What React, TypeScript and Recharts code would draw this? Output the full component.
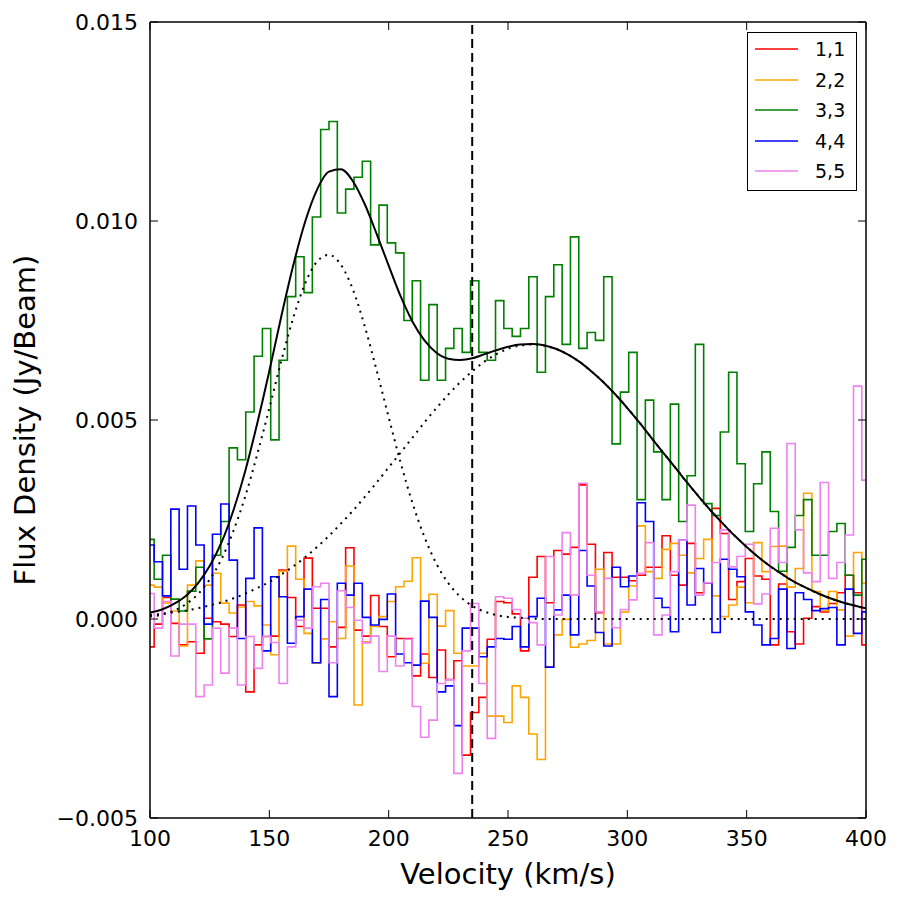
import { LineChart, Line, XAxis, YAxis, ReferenceLine, Legend } from "recharts";

// Spectrum channels: 87 channels from 100 to 400 km/s
const CHANNEL_START = 100;
const CHANNEL_WIDTH = 300 / 86;

// Flux density per channel (Jy/beam) for each transition
const flux11 = [
  -0.0007, -0.00013, 0.00054, -0.00011, -0.00065, -0.00057, -0.00086, 0.00002, -0.00007, -0.00013,
  -0.00044, 0.00035, -0.00183, -0.00065, -0.00044, -0.00043, 0.00123, 0.00054, -0.00019, 0.00153,
  0.00027, 0.00027, -0.0007, -0.00021, 0.00179, -0.00028, -0.00043, 0.00059, -0.00019, -0.00095,
  -0.00049, -0.00049, -0.00143, -0.00088, -0.00147, -0.00078, -0.00152, -0.00105, -0.00342, -0.00235,
  -0.00197, -0.00051, 0.00044, 0.00041, 0.00013, -0.0008, 0.00105, 0.00157, 0.00041, 0.00172,
  0.00163, 0.0018, 0.00337, 0.00188, 0.00016, 0.00167, 0.00105, 0.00105, 0.00096, 0.0011,
  0.0013, 0.0013, 0.00209, 0.0011, 0.00085, 0.0019, 0.00066, 0.00091, 0.00278, 0.00215,
  0.00049, 0.00094, 0.00152, 0.00108, 0.001, -0.00065, 0.00088, -0.00032, -0.00063, 0.00002,
  0.00031, 0.00018, 0.00039, 0.00066, 0.0011, 0.00066, -0.00065,
];

const flux22 = [
  0.00085, 0.0008, 0.0004, 0.0002, -0.00068, 0.00085, 0.00146, 0.00085, 0.00115, 0.0004,
  0.00015, 0.0003, 0.00044, 0.00033, -0.00015, -0.0009, 0.0012, 0.00183, 0.001, -0.00036,
  -0.00111, -0.0005, -0.00007, -0.00049, 0.00133, -0.00216, -0.00057, -0.00019, 0.00006, 0.00044,
  0.00081, 0.00095, 0.00154, -0.00111, 0.00062, -0.00018, 0.00021, -0.00086, -0.00118, -0.00118,
  -0.00086, -0.00244, -0.00244, -0.0026, -0.00168, -0.00197, -0.00289, -0.00353, -0.0012, -0.0004,
  -0.00001, -0.00071, -0.00063, -0.00054, 0.00125, -0.00063, -0.00063, 0.00018, 0.00083, 0.00234,
  0.00119, 0.00102, 0.00175, 0.0019, 0.0016, 0.00116, 0.00152, 0.002, 0.00058, 0.00006,
  0.00035, 0.0008, 0.00041, 0.00192, 0.00119, 0.00182, 0.00183, 0.0008, 0.00127, 0.00316,
  0.00069, 0.00021, 0.00069, 0.00023, -0.00043, 0.00167, 0.0009,
];

const flux33 = [
  0.002, 0.001, 0.0016, 0.0005, 0.0002, 0.0007, 0.0013, -0.0005, 0.0016, 0.00245,
  0.0043, 0.004, 0.0052, 0.0066, 0.0073, 0.0045, 0.0065, 0.0081, 0.0091, 0.0082,
  0.0101, 0.0123, 0.0125, 0.0102, 0.0108, 0.0111, 0.0115, 0.0094, 0.0104, 0.00945,
  0.0092, 0.0075, 0.0085, 0.006, 0.0079, 0.006, 0.0068, 0.0073, 0.0067, 0.0085,
  0.0067, 0.0065, 0.008, 0.0073, 0.0071, 0.0073, 0.0086, 0.0062, 0.0081, 0.0089,
  0.0069, 0.0096, 0.0068, 0.0072, 0.007, 0.0086, 0.0044, 0.0057, 0.0067, 0.003,
  0.0055, 0.0042, 0.003, 0.0054, 0.00245, 0.0036, 0.0069, 0.0029, 0.0026, 0.0047,
  0.0062, 0.0039, 0.0022, 0.0034, 0.0042, 0.0027, 0.0012, 0.0018, 0.0026, 0.003,
  0.0016, 0.0016, 0.0022, 0.0024, 0.0011, 0.0006, 0.0015,
];

const flux44 = [
  0.00186, 0.00144, 0.00058, 0.00276, 0.00125, 0.00284, 0.00186, -0.00013, 0.00213, 0.00289,
  0.00148, -0.00049, 0.00102, 0.00229, -0.0008, 0.00106, 0.00056, -0.00061, 0.00006, 0.00075,
  -0.0011, 0.00049, -0.00195, 0.0009, 0.0006, 0.0009, 0.00004, -0.00015, -0.00001, 0.00063,
  -0.00088, -0.0011, -0.00116, 0.00045, 0.00004, -0.00183, -0.00168, -0.00268, -0.00023, -0.00023,
  -0.00095, -0.0007, -0.00049, -0.00051, -0.00019, -0.0007, 0.00006, 0.00052, -0.00121, 0.00023,
  0.0006, -0.0004, 0.00172, 0.00083, -0.00034, -0.00068, 0.0013, 0.00081, 0.00108, 0.00292,
  0.00245, 0.00052, 0.00029, -0.00032, 0.00198, 0.00035, 0.00127, 0.00091, -0.00034, 0.0015,
  0.00125, 0.00106, 0.00018, -0.00015, -0.00065, -0.00049, 0.00075, -0.00074, 0.00066, 0.00049,
  0.00021, 0.00026, 0.00029, -0.00065, 0.00075, -0.00036, 0.00018,
];

const flux55 = [
  0.00064, -0.00023, 0.00044, -0.00093, -0.00013, -0.00013, -0.00195, -0.00166, -0.00023, -0.00136,
  -0.00023, -0.00166, -0.00044, -0.00124, -0.00044, -0.00059, -0.00162, -0.0007, -0.00003, -0.00023,
  0.00081, 0.0009, -0.0011, 0.00071, 0.00029, -0.00003, -0.0006, -0.00043, -0.00132, -0.00043,
  -0.00118, -0.00051, -0.0022, -0.00297, -0.00254, -0.00162, -0.00153, -0.00388, -0.0008, 0.00039,
  -0.00162, -0.003, 0.00056, 0.00052, 0.00024, 0.00002, -0.00009, -0.00065, 0.00157, 0.0001,
  0.00217, 0.0006, 0.00341, 0.0011, 0.00018, 0.00102, -0.00022, 0.00024, 0.00048, 0.00115,
  0.00192, -0.0004, 0.0001, 0.00119, 0.00198, 0.00286, 0.0006, 0.00091, 0.00142, 0.00224,
  0.00131, 0.00157, 0.00188, 0.00038, 0.00063, 0.00228, 0.00142, 0.00441, 0.00224, 0.00116,
  0.00094, 0.00343, 0.00102, 0.00142, 0.00211, 0.00585, 0.00349,
];

// Two-component Gaussian fit to the (3,3) line, sampled every 5 km/s
const fitVelocity = [
  100, 105, 110, 115, 120, 125, 130, 135, 140, 145, 150, 155, 160, 165, 170, 175, 180, 185, 190, 195,
  200, 205, 210, 215, 220, 225, 230, 235, 240, 245, 250, 255, 260, 265, 270, 275, 280, 285, 290, 295,
  300, 305, 310, 315, 320, 325, 330, 335, 340, 345, 350, 355, 360, 365, 370, 375, 380, 385, 390, 395, 400,
];

const fitTotal = [
  0.00016, 0.00024, 0.00038, 0.00058, 0.00089, 0.00133, 0.00193, 0.00274, 0.00374, 0.00493,
  0.00623, 0.0076, 0.00888, 0.00998, 0.01079, 0.01124, 0.0113, 0.011, 0.01042, 0.00967,
  0.00888, 0.00811, 0.00747, 0.007, 0.00669, 0.00654, 0.00651, 0.00655, 0.00665, 0.00675,
  0.00684, 0.0069, 0.00691, 0.00688, 0.00679, 0.00665, 0.00646, 0.00622, 0.00595, 0.00564,
  0.0053, 0.00494, 0.00456, 0.00418, 0.00381, 0.00343, 0.00307, 0.00272, 0.0024, 0.00209,
  0.00181, 0.00155, 0.00132, 0.00112, 0.00093, 0.00078, 0.00064, 0.00052, 0.00042, 0.00034, 0.00027,
];

const fitComp1 = [
  0.00006, 0.00011, 0.00021, 0.00037, 0.00062, 0.00099, 0.00151, 0.00222, 0.0031, 0.00415,
  0.0053, 0.00648, 0.00756, 0.00843, 0.00898, 0.00915, 0.0089, 0.00828, 0.00735, 0.00624,
  0.00507, 0.00393, 0.00291, 0.00206, 0.00139, 0.0009, 0.00056, 0.00033, 0.00019, 0.0001,
  0.00005, 0.00003, 0.00001, 0, 0, 0, 0, 0, 0, 0,
  0, 0, 0, 0, 0, 0, 0, 0, 0, 0,
  0, 0, 0, 0, 0, 0, 0, 0, 0, 0, 0,
];

const fitComp2 = [
  0.0001, 0.00013, 0.00017, 0.00021, 0.00027, 0.00034, 0.00042, 0.00052, 0.00064, 0.00078,
  0.00093, 0.00112, 0.00132, 0.00155, 0.00181, 0.00209, 0.0024, 0.00272, 0.00307, 0.00343,
  0.00381, 0.00418, 0.00456, 0.00494, 0.0053, 0.00564, 0.00595, 0.00622, 0.00646, 0.00665,
  0.00679, 0.00687, 0.0069, 0.00687, 0.00679, 0.00665, 0.00646, 0.00622, 0.00595, 0.00564,
  0.0053, 0.00494, 0.00456, 0.00418, 0.00381, 0.00343, 0.00307, 0.00272, 0.0024, 0.00209,
  0.00181, 0.00155, 0.00132, 0.00112, 0.00093, 0.00078, 0.00064, 0.00052, 0.00042, 0.00034, 0.00027,
];

const systemicVelocity = 235;

const xTicks = [100, 150, 200, 250, 300, 350, 400];
const yTicks = [-0.005, 0, 0.005, 0.01, 0.015];

const SERIES = [
  { label: "1,1", color: "#ff0000", values: flux11 },
  { label: "2,2", color: "#ffa500", values: flux22 },
  { label: "3,3", color: "#008000", values: flux33 },
  { label: "4,4", color: "#0000ff", values: flux44 },
  { label: "5,5", color: "#ee82ee", values: flux55 },
];

const FONT = "'DejaVu Sans', sans-serif";
const PLOT = { left: 150, right: 866, top: 22, bottom: 818 };
const TICK_LEN = 8;
// room reserved for each axis (Recharts skips axes with zero size)
const AXIS = { left: 60, bottom: 30, top: 10, right: 10 };

const channelRows = (values: number[]) =>
  values.map((flux, i) => ({ v: CHANNEL_START + i * CHANNEL_WIDTH, flux }));

const fitRows = (values: number[]) => fitVelocity.map((v, i) => ({ v, flux: values[i] }));

const formatFlux = (value: number) => {
  const s = Math.abs(value).toFixed(3);
  return value < 0 ? "\u2212" + s : s;
};

function BottomTick({ x, payload }: any) {
  return (
    <g>
      <line x1={x} x2={x} y1={PLOT.bottom} y2={PLOT.bottom - TICK_LEN} stroke="#000" />
      <text x={x} y={PLOT.bottom + 28} textAnchor="middle" fontSize={22} fontFamily={FONT} fill="#000">
        {payload.value}
      </text>
    </g>
  );
}

function TopTick({ x }: any) {
  return <line x1={x} x2={x} y1={PLOT.top} y2={PLOT.top + TICK_LEN} stroke="#000" />;
}

function LeftTick({ y, payload }: any) {
  return (
    <g>
      <line x1={PLOT.left} x2={PLOT.left + TICK_LEN} y1={y} y2={y} stroke="#000" />
      <text x={PLOT.left - 12} y={y} dy="0.36em" textAnchor="end" fontSize={22} fontFamily={FONT} fill="#000">
        {formatFlux(payload.value)}
      </text>
    </g>
  );
}

function RightTick({ y }: any) {
  return <line x1={PLOT.right} x2={PLOT.right - TICK_LEN} y1={y} y2={y} stroke="#000" />;
}

function VelocityLabel() {
  return (
    <text x={(PLOT.left + PLOT.right) / 2} y={884} textAnchor="middle" fontSize={29} fontFamily={FONT} fill="#000">
      Velocity (km/s)
    </text>
  );
}

function FluxLabel() {
  const cy = (PLOT.top + PLOT.bottom) / 2;
  return (
    <text
      x={35}
      y={cy}
      transform={`rotate(-90 35 ${cy})`}
      textAnchor="middle"
      fontSize={29}
      fontFamily={FONT}
      fill="#000"
    >
      Flux Density (Jy/Beam)
    </text>
  );
}

function LegendBox() {
  return (
    <div
      style={{
        width: 110,
        height: 159,
        boxSizing: "border-box",
        border: "1.5px solid #000",
        background: "#fff",
        paddingTop: 1,
        fontFamily: FONT,
      }}
    >
      {SERIES.map((s) => (
        <div key={s.label} style={{ display: "flex", alignItems: "center", height: 30.5 }}>
          <svg width={51} height={4} style={{ display: "block", flexShrink: 0 }}>
            <line x1={7} x2={50} y1={2} y2={2} stroke={s.color} strokeWidth={1.5} />
          </svg>
          <span style={{ marginLeft: 16, fontSize: 19, color: "#000" }}>{s.label}</span>
        </div>
      ))}
    </div>
  );
}

export default function App() {
  return (
    <div style={{ position: "absolute", left: 0, top: 0, background: "#fff" }}>
      <LineChart
        width={900}
        height={900}
        margin={{
          top: PLOT.top - AXIS.top,
          right: 900 - PLOT.right - AXIS.right,
          bottom: 900 - PLOT.bottom - AXIS.bottom,
          left: PLOT.left - AXIS.left,
        }}
      >
        <XAxis
          dataKey="v"
          type="number"
          domain={[100, 400]}
          ticks={xTicks}
          interval={0}
          allowDataOverflow
          height={AXIS.bottom}
          tickLine={false}
          axisLine={{ stroke: "#000", strokeWidth: 1.5 }}
          tick={<BottomTick />}
          label={<VelocityLabel />}
        />
        <XAxis
          xAxisId="top"
          orientation="top"
          dataKey="v"
          type="number"
          domain={[100, 400]}
          ticks={xTicks}
          interval={0}
          allowDataOverflow
          height={AXIS.top}
          tickLine={false}
          axisLine={{ stroke: "#000", strokeWidth: 1.5 }}
          tick={<TopTick />}
        />
        <YAxis
          type="number"
          domain={[-0.005, 0.015]}
          ticks={yTicks}
          interval={0}
          allowDataOverflow
          width={AXIS.left}
          tickLine={false}
          axisLine={{ stroke: "#000", strokeWidth: 1.5 }}
          tick={<LeftTick />}
          label={<FluxLabel />}
        />
        <YAxis
          yAxisId="right"
          orientation="right"
          type="number"
          domain={[-0.005, 0.015]}
          ticks={yTicks}
          interval={0}
          allowDataOverflow
          width={AXIS.right}
          tickLine={false}
          axisLine={{ stroke: "#000", strokeWidth: 1.5 }}
          tick={<RightTick />}
        />

        {SERIES.map((s) => (
          <Line
            key={s.label}
            name={s.label}
            data={channelRows(s.values)}
            dataKey="flux"
            type="step"
            stroke={s.color}
            strokeWidth={1.6}
            dot={false}
            activeDot={false}
            isAnimationActive={false}
          />
        ))}

        <Line
          name="fit"
          data={fitRows(fitTotal)}
          dataKey="flux"
          type="monotone"
          stroke="#000"
          strokeWidth={2}
          dot={false}
          activeDot={false}
          legendType="none"
          isAnimationActive={false}
        />
        <Line
          name="component 1"
          data={fitRows(fitComp1)}
          dataKey="flux"
          type="monotone"
          stroke="#000"
          strokeWidth={2}
          strokeDasharray="2 5"
          dot={false}
          activeDot={false}
          legendType="none"
          isAnimationActive={false}
        />
        <Line
          name="component 2"
          data={fitRows(fitComp2)}
          dataKey="flux"
          type="monotone"
          stroke="#000"
          strokeWidth={2}
          strokeDasharray="2 5"
          dot={false}
          activeDot={false}
          legendType="none"
          isAnimationActive={false}
        />

        <ReferenceLine x={systemicVelocity} stroke="#000" strokeWidth={2} strokeDasharray="9 5" />

        <Legend
          layout="vertical"
          align="center"
          verticalAlign="middle"
          width={110}
          height={159}
          wrapperStyle={{ left: 747, top: 32 }}
          content={() => <LegendBox />}
        />
      </LineChart>
    </div>
  );
}
